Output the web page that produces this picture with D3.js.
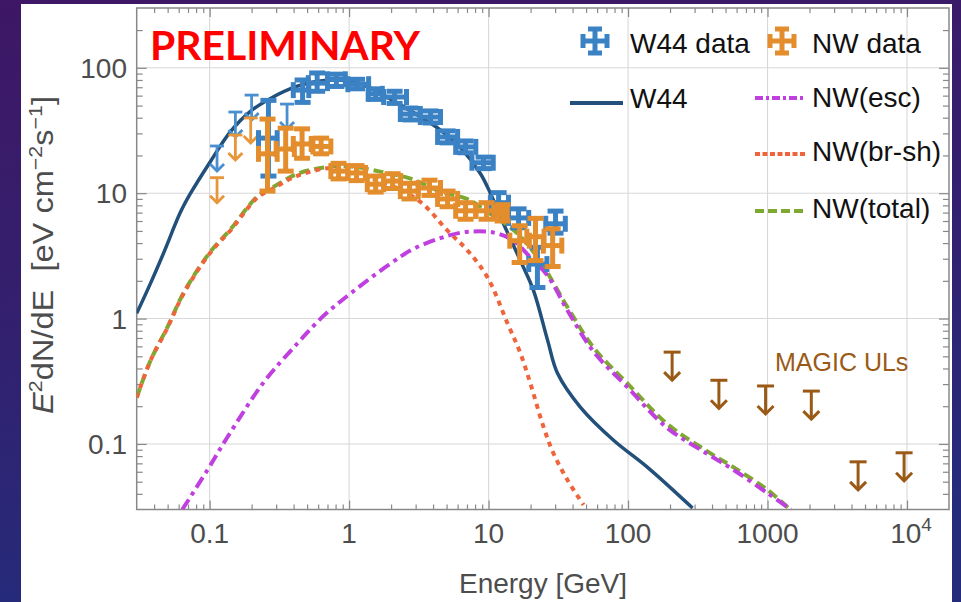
<!DOCTYPE html>
<html><head><meta charset="utf-8">
<script src="https://cdn.jsdelivr.net/npm/d3@7"></script>
<style>body{margin:0;overflow:hidden;background:#2a1f6a}svg{display:block}</style>
</head><body>
<svg id="c" width="961" height="602"></svg>
<script>
// ---------- data ----------
const w44CurveE = [0.03,0.0376,0.0466,0.0616,0.0727,0.1,0.141,0.196,0.273,0.42,0.6,0.8,1.1,1.5,2.0,3.2,4.5,6.3,8.75,10.3,12.8,16.9,21,26.5,31.2,45.6,78.7,138,290];
const w44CurveV = [1.1,1.9,3.3,7.0,9.9,17.5,31,45,57,71,78,80,77,67,56,41,32,23,14.3,10,5.7,2.9,1.67,0.67,0.366,0.196,0.107,0.065,0.0308];

const escE = [0.0637,0.0965,0.134,0.244,0.424,0.655,1.02,1.98,2.9,5.1,7.1,10.9,15.1,20,26.5,36.8,57,100,188,366,572,1000,1470];
const escV = [0.03,0.062,0.113,0.31,0.63,1.05,1.58,2.75,3.6,4.57,4.92,4.85,4.18,3.06,2.2,1.16,0.54,0.28,0.136,0.084,0.062,0.0405,0.03];

const brE = [0.03,0.0376,0.05,0.065,0.1,0.14,0.22,0.29,0.42,0.73,1.0,1.42,2.2,3.3,5.1,7.1,9.85,13.7,16.9,20,24.8,29.2,36.8,48];
const brV = [0.234,0.46,0.85,1.58,3.3,5.0,9.2,11,13.7,15.9,15.5,13.3,11,8.4,5.0,3.47,2.12,0.91,0.53,0.30,0.136,0.084,0.0515,0.0326];

const totalE = [0.03,0.0376,0.05,0.065,0.1,0.14,0.22,0.29,0.42,0.7,1.0,1.7,2.8,4.5,7.0,10,13.5,17,23.5,37,57,100,190,366,572,1000,1500];
const totalV = [0.234,0.46,0.86,1.6,3.35,5.1,9.4,11.3,14.2,16.2,16.4,14.8,13.0,10.3,9.0,7.0,5.6,4.5,2.85,1.22,0.58,0.3,0.145,0.088,0.065,0.043,0.029];

const w44E   = [0.264,0.464,0.59,0.81,1.14,1.55,2.12,2.75,3.84,5.08,6.84,9.2,11.8,16.4,22.4,30.2];
const w44ELo = [0.224,0.398,0.51,0.70,0.98,1.37,1.77,2.33,3.24,4.31,5.81,7.6,10.3,13.9,19.4,25.7];
const w44EHi = [0.305,0.514,0.70,0.94,1.38,1.73,2.58,3.24,4.52,6.0,8.1,10.8,13.9,19.4,26.2,35.5];
const w44V   = [27.5,66.4,75.5,81,74,62,58.5,42.8,40.5,28.1,23.4,17.5,8.4,6.35,2.72,5.7];
const w44VLo = [13.7,53,65,71,68,56,52,38.4,36.3,25.2,21,15.7,6.9,5.3,1.77,4.8];
const w44VHi = [55,80,91,89,81,68,65,47.8,45.3,31.4,26.1,19.4,10.1,7.5,3.7,7.2];
const w44UlE = [0.113,0.153,0.2,0.359];
const w44UlV = [23.8,44.4,60.6,51.4];

const nwE   = [0.26,0.351,0.46,0.63,0.84,1.13,1.55,2.05,2.71,3.77,5.08,6.84,9.67,12.6,16.7,21.7,28.8];
const nwELo = [0.224,0.30,0.398,0.55,0.74,0.98,1.35,1.77,2.33,3.13,4.31,5.81,8.1,10.9,14.2,18.8,24.7];
const nwEHi = [0.305,0.405,0.535,0.74,0.98,1.31,1.77,2.34,3.13,4.52,6.0,8.1,11.6,13.6,19.6,25,33.5];
const nwV   = [20.6,22.5,24.7,23.6,15,14.5,11.8,12.5,10.4,11.0,9.0,7.24,7.24,6.97,4.18,4.5,3.82];
const nwVLo = [10.4,15,19,20.6,13,12.6,10.2,10.9,9.0,9.6,7.8,6.2,6.2,6.0,2.8,2.9,2.6];
const nwVHi = [39,33,32.6,27.5,17.3,16.6,13.7,14.3,12,12.7,10.4,8.4,8.4,8.1,5.5,6.3,5.2];
const nwUlE = [0.113,0.153,0.197];
const nwUlV = [13.3,29.1,39.8];

const magicE = [207,448,968,2060,4460,9530];
const magicV = [0.54,0.322,0.29,0.264,0.072,0.085];

const xTickVals = [0.1,1,10,100,1000,10000];
const xTickLabels = ["0.1","1","10","100","1000","10^4"];
const yTickVals = [0.1,1,10,100];
const yTickLabels = ["0.1","1","10","100"];
const legendLabels = ["W44 data","NW data","W44","NW(esc)","NW(br-sh)","NW(total)"];

// ---------- styles ----------
const C = {w44:"#22507a", esc:"#bf3fdf", br:"#f0643c", tot:"#7fa830",
           blue:"#3b82c4", blueUL:"#4a90d0", orange:"#e38d2c", orangeUL:"#e8963a", magic:"#9a5a16"};
const FONT = "'Liberation Sans', Arial, sans-serif";

const svg = d3.select("#c");
const defs = svg.append("defs");
const g1 = defs.append("linearGradient").attr("id","bg").attr("x1",0).attr("y1",0).attr("x2",0.2).attr("y2",1);
g1.append("stop").attr("offset","0").attr("stop-color","#3e1766");
g1.append("stop").attr("offset","0.5").attr("stop-color","#33206e");
g1.append("stop").attr("offset","1").attr("stop-color","#252b7b");
svg.append("rect").attr("width",961).attr("height",602).attr("fill","url(#bg)");
svg.append("rect").attr("x",21).attr("y",4).attr("width",931).attr("height",598).attr("fill","#ffffff");

const L=136.7, R=949, T=8, B=509.5;
const x = d3.scaleLog().domain([0.03,20000]).range([L,R]);
const y = d3.scaleLog().domain([0.03,300]).range([B,T]);

defs.append("clipPath").attr("id","clip").append("rect").attr("x",L).attr("y",T).attr("width",R-L).attr("height",B-T);

// grid
const grid = svg.append("g").attr("stroke","#d8d8d8").attr("stroke-width",1.1);
xTickVals.forEach(v=>grid.append("line").attr("x1",x(v)).attr("x2",x(v)).attr("y1",T).attr("y2",B));
yTickVals.forEach(v=>grid.append("line").attr("y1",y(v)).attr("y2",y(v)).attr("x1",L).attr("x2",R));

// ticks
function minors(dom){
  const out=[]; for(let d=-3; d<=5; d++){ for(let k=2;k<=9;k++){const v=k*Math.pow(10,d); if(v>dom[0]*1.0001 && v<dom[1]*0.9999) out.push(v);} } return out;
}
const xMin = minors(x.domain()), yMin = minors(y.domain());
function styleAxis(sel){ sel.select(".domain").remove(); sel.selectAll("line").attr("stroke","#888").attr("stroke-width",1.2); sel.selectAll("text").remove(); }
svg.append("g").attr("transform",`translate(0,${B})`).call(d3.axisBottom(x).tickValues(xMin).tickSize(-5).tickFormat("")).call(styleAxis);
svg.append("g").attr("transform",`translate(0,${B})`).call(d3.axisBottom(x).tickValues(xTickVals).tickSize(-9).tickFormat("")).call(styleAxis);
svg.append("g").attr("transform",`translate(0,${T})`).call(d3.axisTop(x).tickValues(xMin).tickSize(-5).tickFormat("")).call(styleAxis);
svg.append("g").attr("transform",`translate(0,${T})`).call(d3.axisTop(x).tickValues(xTickVals).tickSize(-9).tickFormat("")).call(styleAxis);
svg.append("g").attr("transform",`translate(${L},0)`).call(d3.axisLeft(y).tickValues(yMin).tickSize(-6).tickFormat("")).call(styleAxis);
svg.append("g").attr("transform",`translate(${L},0)`).call(d3.axisLeft(y).tickValues(yTickVals).tickSize(-10).tickFormat("")).call(styleAxis);
svg.append("g").attr("transform",`translate(${R},0)`).call(d3.axisRight(y).tickValues(yMin).tickSize(-6).tickFormat("")).call(styleAxis);
svg.append("g").attr("transform",`translate(${R},0)`).call(d3.axisRight(y).tickValues(yTickVals).tickSize(-10).tickFormat("")).call(styleAxis);
svg.append("rect").attr("x",L).attr("y",T).attr("width",R-L).attr("height",B-T).attr("fill","none").attr("stroke","#888").attr("stroke-width",1.5);

// tick labels
xTickVals.forEach((v,i)=>{
  const t = svg.append("text").attr("x",x(v)).attr("y",543).attr("text-anchor","middle")
    .attr("font-family",FONT).attr("font-size",28).attr("fill","#4d4d4d");
  const lab = xTickLabels[i];
  if(lab.includes("^")){ const [b,e]=lab.split("^"); t.append("tspan").text(b); t.append("tspan").attr("dy",-12).attr("font-size",19).text(e); t.attr("x",x(v)+4); }
  else t.text(lab);
});
yTickVals.forEach((v,i)=>{
  svg.append("text").attr("x",127).attr("y",y(v)+10).attr("text-anchor","end")
    .attr("font-family",FONT).attr("font-size",28).attr("fill","#4d4d4d").text(yTickLabels[i]);
});

// axis titles
svg.append("text").attr("x",543).attr("y",593).attr("text-anchor","middle").attr("font-family",FONT)
  .attr("font-size",28).attr("fill","#4d4d4d").text("Energy [GeV]");
const yt = svg.append("text").attr("transform","translate(53,255) rotate(-90)").attr("text-anchor","middle")
  .attr("font-family",FONT).attr("font-size",29).attr("fill","#4d4d4d")
  .attr("textLength",318).attr("lengthAdjust","spacingAndGlyphs");
yt.append("tspan").attr("font-style","italic").text("E");
yt.append("tspan").attr("dy",-11).attr("font-size",19).text("2");
yt.append("tspan").attr("dy",11).text("dN/dE\u00a0\u00a0[eV cm");
yt.append("tspan").attr("dy",-11).attr("font-size",19).text("\u22122");
yt.append("tspan").attr("dy",11).text("s");
yt.append("tspan").attr("dy",-11).attr("font-size",19).text("\u22121");
yt.append("tspan").attr("dy",11).text("]");

// curves
const plot = svg.append("g").attr("clip-path","url(#clip)");
const line = d3.line().x(d=>x(d[0])).y(d=>y(d[1])).curve(d3.curveCatmullRom.alpha(0.5));
const zip=(a,b)=>a.map((v,i)=>[v,b[i]]);
plot.append("path").attr("d",line(zip(w44CurveE,w44CurveV))).attr("fill","none").attr("stroke",C.w44).attr("stroke-width",3.5);
plot.append("path").attr("d",line(zip(totalE,totalV))).attr("fill","none").attr("stroke",C.tot).attr("stroke-width",4).attr("stroke-dasharray","10,5");
plot.append("path").attr("d",line(zip(brE,brV))).attr("fill","none").attr("stroke",C.br).attr("stroke-width",4).attr("stroke-dasharray","5,5");
plot.append("path").attr("d",line(zip(escE,escV))).attr("fill","none").attr("stroke",C.esc).attr("stroke-width",4).attr("stroke-dasharray","12,5,4,5");

// error bar marker in px
function errMark(g, cx, cy, x1, x2, y1, y2, col, cap){
  const s = g.append("g").attr("stroke",col).attr("stroke-width",5).attr("fill","none");
  s.append("line").attr("x1",x1).attr("x2",x2).attr("y1",cy).attr("y2",cy);
  s.append("line").attr("x1",x1).attr("x2",x1).attr("y1",cy-cap).attr("y2",cy+cap);
  s.append("line").attr("x1",x2).attr("x2",x2).attr("y1",cy-cap).attr("y2",cy+cap);
  s.append("line").attr("x1",cx).attr("x2",cx).attr("y1",y1).attr("y2",y2);
  s.append("line").attr("x1",cx-cap).attr("x2",cx+cap).attr("y1",y1).attr("y2",y1);
  s.append("line").attr("x1",cx-cap).attr("x2",cx+cap).attr("y1",y2).attr("y2",y2);
}
function ulMark(g, cx, cy, col, cap, len, head, sw){
  const s = g.append("g").attr("stroke",col).attr("stroke-width",sw).attr("fill","none");
  s.append("line").attr("x1",cx-cap).attr("x2",cx+cap).attr("y1",cy).attr("y2",cy);
  s.append("line").attr("x1",cx).attr("x2",cx).attr("y1",cy).attr("y2",cy+len);
  s.append("path").attr("d",`M${cx-head},${cy+len-head}L${cx},${cy+len}L${cx+head},${cy+len-head}`);
}
const dataG = svg.append("g");
w44UlE.forEach((e,i)=>ulMark(dataG, x(e), y(w44UlV[i]), C.blueUL, 7, 25, 7, 2.8));
nwUlE.forEach((e,i)=>ulMark(dataG, x(e), y(nwUlV[i]), C.orangeUL, 7, 25, 7, 2.8));
w44E.forEach((e,i)=>errMark(dataG, x(e), y(w44V[i]), x(w44ELo[i]), x(w44EHi[i]), y(w44VHi[i]), y(w44VLo[i]), C.blue, 8));
nwE.forEach((e,i)=>errMark(dataG, x(e), y(nwV[i]), x(nwELo[i]), x(nwEHi[i]), y(nwVHi[i]), y(nwVLo[i]), C.orange, 8));
magicE.forEach((e,i)=>ulMark(dataG, x(e), y(magicV[i]), C.magic, 8.5, 28, 8, 3));

svg.append("text").attr("x",775).attr("y",371).attr("font-family",FONT).attr("font-size",25).attr("fill",C.magic).text("MAGIC ULs");

// PRELIMINARY
svg.append("text").attr("x",150).attr("y",60).attr("font-family","Lato, 'Open Sans', sans-serif").attr("font-weight","bold")
  .attr("font-size",40).attr("fill","#ff0000").attr("textLength",270).attr("lengthAdjust","spacingAndGlyphs").text("PRELIMINARY");

// legend
const lg = svg.append("g").attr("font-family",FONT).attr("font-size",28).attr("fill","#111");
errMark(lg, 595, 41, 583, 607, 29, 53, C.blue, 7);
lg.append("text").attr("x",630).attr("y",53).text(legendLabels[0]);
errMark(lg, 782, 41, 770, 794, 29, 53, C.orange, 7);
lg.append("text").attr("x",812).attr("y",53).text(legendLabels[1]);
lg.append("line").attr("x1",570).attr("x2",623).attr("y1",103).attr("y2",103).attr("stroke",C.w44).attr("stroke-width",4);
lg.append("text").attr("x",630).attr("y",108).text(legendLabels[2]);
lg.append("line").attr("x1",755).attr("x2",806).attr("y1",98).attr("y2",98).attr("stroke",C.esc).attr("stroke-width",4).attr("stroke-dasharray","8,3,3,3");
lg.append("text").attr("x",812).attr("y",107).text(legendLabels[3]);
lg.append("line").attr("x1",755).attr("x2",806).attr("y1",154).attr("y2",154).attr("stroke",C.br).attr("stroke-width",4).attr("stroke-dasharray","5,2.5");
lg.append("text").attr("x",812).attr("y",161).text(legendLabels[4]);
lg.append("line").attr("x1",755).attr("x2",806).attr("y1",211).attr("y2",211).attr("stroke",C.tot).attr("stroke-width",4).attr("stroke-dasharray","9,4");
lg.append("text").attr("x",812).attr("y",218).text(legendLabels[5]);
</script>
</body></html>
